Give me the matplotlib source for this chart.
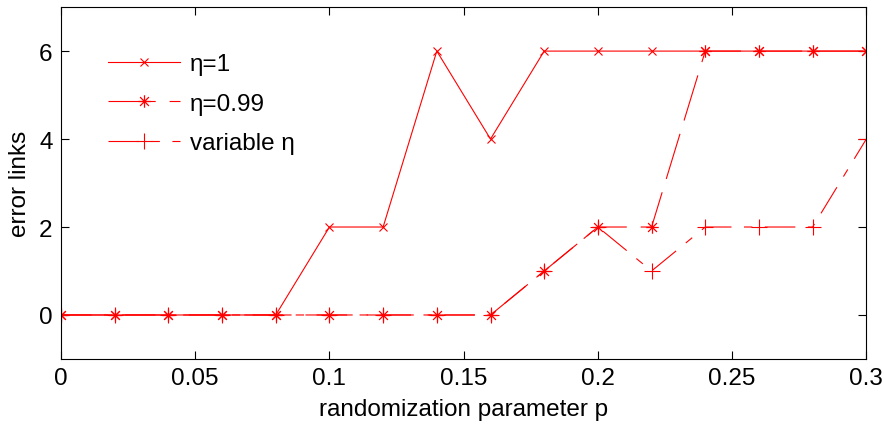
import matplotlib
matplotlib.use("Agg")
import matplotlib.pyplot as plt
from matplotlib.path import Path

p = [0, 0.02, 0.04, 0.06, 0.08, 0.10, 0.12, 0.14, 0.16, 0.18, 0.20, 0.22, 0.24, 0.26, 0.28, 0.30]
eta1 = [0, 0, 0, 0, 0, 2, 2, 6, 4, 6, 6, 6, 6, 6, 6, 6]
eta099 = [0, 0, 0, 0, 0, 0, 0, 0, 0, 1, 2, 2, 6, 6, 6, 6]
eta_var = [0, 0, 0, 0, 0, 0, 0, 0, 0, 1, 2, 1, 2, 2, 2, 4]
labels = ["η=1", "η=0.99", "variable η"]

plt.rcParams['font.family'] = ['Liberation Sans', 'DejaVu Sans']
plt.rcParams['lines.scale_dashes'] = False
FS = 17.5

# MATLAB-style asterisk marker: plus combined with an x
d = 0.7071
asterisk = Path(
    [(-1, 0), (1, 0), (0, -1), (0, 1), (-d, -d), (d, d), (-d, d), (d, -d)],
    [Path.MOVETO, Path.LINETO] * 4,
)

fig = plt.figure(figsize=(8.84, 4.27), dpi=100)
ax = fig.add_axes([0.069, 0.157, 0.911, 0.824])

ax.plot(p, eta1, color='red', lw=0.8, ls='-', marker='x', mec='red', ms=6, mew=0.8,
        label=labels[0])
ax.plot(p, eta099, color='red', lw=0.8, ls=(0, (34, 10)), marker=asterisk, mec='red',
        ms=9, mew=0.9, label=labels[1])
ax.plot(p, eta_var, color='red', lw=0.8, ls=(0, (22, 9, 6, 9)), marker='+', mec='red',
        ms=12, mew=0.8, label=labels[2])

ax.set_xlim(0, 0.3)
ax.set_ylim(-1, 7)
ax.set_xticks([0, 0.05, 0.1, 0.15, 0.2, 0.25, 0.3])
ax.set_xticklabels(['0', '0.05', '0.1', '0.15', '0.2', '0.25', '0.3'])
ax.set_yticks([0, 2, 4, 6])
ax.tick_params(direction='in', top=True, right=True, labelsize=FS, length=6, width=0.8,
               pad=6)
for s in ax.spines.values():
    s.set_linewidth(0.8)
ax.set_xlabel('randomization parameter p', fontsize=FS, labelpad=6)
ax.set_ylabel('error links', fontsize=FS, labelpad=6)
leg = ax.legend(loc='upper left', bbox_to_anchor=(0.058, 0.869), frameon=False, fontsize=FS,
                handlelength=2.96, handletextpad=0.41, labelspacing=0.72,
                borderaxespad=0, borderpad=0)
fig.savefig('out.png', dpi=100)
